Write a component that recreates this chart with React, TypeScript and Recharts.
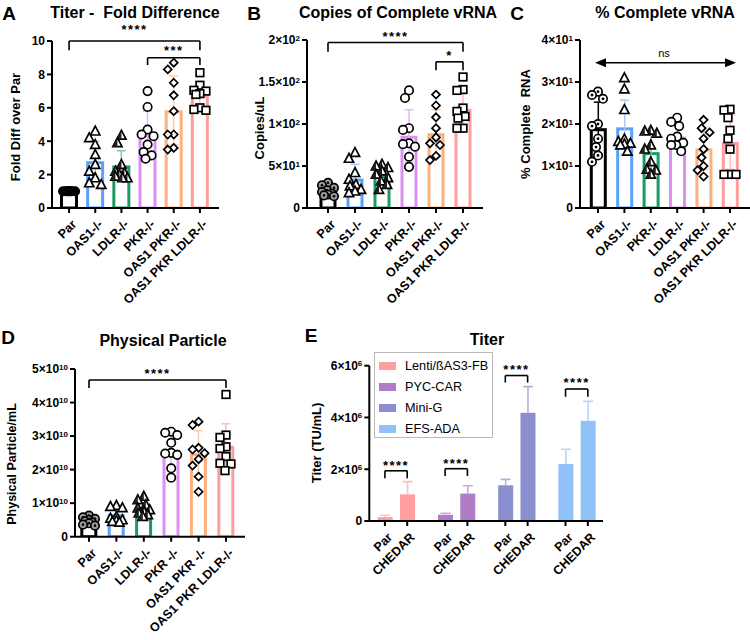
import React from 'react';
import { ComposedChart, Bar, Scatter, XAxis, YAxis, ReferenceLine, ReferenceDot } from 'recharts';

const FONT = '"Liberation Sans", Arial, Helvetica, sans-serif';

// ---------------- Panel A : Titer - Fold Difference ----------------
const catsA = ['Par', 'OAS1-/-', 'LDLR-/-', 'PKR-/-', 'OAS1 PKR-/-', 'OAS1 PKR LDLR-/-'];
const meanA = [1.0, 2.8, 2.55, 4.4, 5.85, 6.8];
const sdA = [0.05, 1.2, 0.88, 1.4, 2.05, 0.7];
const pointsA = [
  [1.0, 1.0, 1.0, 1.0, 1.0, 1.0, 1.0, 1.0, 1.0],
  [4.6, 4.2, 3.8, 3.2, 2.6, 2.2, 1.8, 1.5, 1.4],
  [4.35, 3.9, 2.6, 2.2, 2.1, 2.0, 1.9, 1.8, 1.8],
  [7.0, 6.05, 4.7, 4.4, 4.3, 3.8, 3.35, 3.15, 2.95],
  [8.7, 8.3, 7.5, 6.75, 5.8, 4.4, 4.4, 3.6, 3.5],
  [8.1, 7.35, 7.05, 7.0, 6.85, 6.8, 6.0, 5.9, 5.85],
];
const ticksA = [0, 2, 4, 6, 8, 10];
const bracketsA = [
  { from: 0, to: 5, y: 10, leg: 9.45, label: '****', off: 7 },
  { from: 3, to: 5, y: 9.0, leg: 8.56, label: '***', off: 3 },
];

// ---------------- Panel B : Copies of Complete vRNA ----------------
const catsB = ['Par', 'OAS1-/-', 'LDLR-/-', 'PKR-/-', 'OAS1 PKR-/-', 'OAS1 PKR LDLR-/-'];
const meanB = [17, 35, 39, 86, 89, 118];
const sdB = [4, 17, 11, 31, 28, 19];
const pointsB = [
  [30, 27, 24, 21, 19, 17, 16, 15, 14],
  [66, 59, 42, 34, 28, 26, 22, 20, 18],
  [52, 50, 48, 44, 40, 36, 32, 28, 22],
  [140, 131, 95, 93, 77, 76, 73, 61, 49],
  [135, 122, 108, 95, 84, 77, 75, 62, 57],
  [156, 141, 140, 119, 115, 109, 107, 95, 95],
];
const ticksB = [0, 50, 100, 150, 200];
const bracketsB = [
  { from: 0, to: 5, y: 197, leg: 186, label: '****', off: 2 },
  { from: 4, to: 5, y: 174, leg: 164, label: '*', off: 1.5 },
];

// ---------------- Panel C : % Complete vRNA ----------------
const catsC = ['Par', 'OAS1-/-', 'PKR-/-', 'LDLR-/-', 'OAS1 PKR-/-', 'OAS1 PKR LDLR-/-'];
const meanC = [19.0, 19.2, 13.3, 17.0, 14.2, 15.7];
const sdC = [6.2, 6.5, 4.5, 3.0, 5.0, 6.5];
const pointsC = [
  [27.7, 26.9, 26.0, 20.0, 19.5, 16.5, 14.5, 12.5, 11.0],
  [31.0, 28.3, 23.4, 16.4, 15.8, 15.4, 15.2, 15.0, 13.5],
  [18.5, 18.3, 17.8, 15.0, 14.0, 11.0, 9.2, 9.0, 8.0],
  [21.5, 20.5, 19.5, 17.0, 16.5, 15.5, 15.0, 15.0, 13.5],
  [21.0, 19.0, 18.0, 16.5, 14.0, 12.0, 10.0, 9.0, 7.5],
  [23.5, 23.3, 21.5, 18.5, 16.5, 14.0, 8.0, 8.0, 8.0],
];
const ticksC = [0, 10, 20, 30, 40];
const nsArrowC = { y: 34.6, label: 'ns' };

// ---------------- Panel D : Physical Particle ----------------
const catsD = ['Par', 'OAS1-/-', 'LDLR-/-', 'PKR -/-', 'OAS1 PKR -/-', 'OAS1 PKR LDLR-/-'];
const meanD = [4.0e9, 6.7e9, 8.0e9, 25.9e9, 24.9e9, 27.1e9];
const sdD = [1.0e9, 2.0e9, 2.2e9, 5.0e9, 6.7e9, 6.6e9];
const pointsD = [
  [6.3e9, 5.8e9, 5.3e9, 5.0e9, 4.6e9, 4.3e9, 4.0e9, 3.6e9, 3.3e9],
  [9.3e9, 9.0e9, 8.6e9, 6.0e9, 5.5e9, 5.0e9, 4.8e9, 4.5e9, 4.3e9],
  [12.0e9, 11.0e9, 9.5e9, 8.5e9, 8.0e9, 7.5e9, 7.0e9, 6.5e9, 6.0e9],
  [31.3e9, 31.0e9, 30.3e9, 28.0e9, 25.0e9, 24.8e9, 24.4e9, 20.4e9, 17.6e9],
  [34.3e9, 33.3e9, 26.5e9, 26.0e9, 24.9e9, 23.1e9, 21.2e9, 17.9e9, 13.4e9],
  [42.4e9, 30.3e9, 29.6e9, 26.8e9, 26.3e9, 23.9e9, 21.9e9, 21.7e9, 19.7e9],
];
const ticksD = [0, 1e10, 2e10, 3e10, 4e10, 5e10];
const bracketsD = [{ from: 0, to: 5, y: 4.67e10, leg: 4.43e10, label: '****', off: 2 }];

// ---------------- Panel E : Titer ----------------
const constructsE = ['Lenti/ßAS3-FB', 'PYC-CAR', 'Mini-G', 'EFS-ADA'];
const conditionsE = ['Par', 'CHEDAR'];
const titerParE = [0.15e6, 0.24e6, 1.38e6, 2.2e6];
const titerChedarE = [1.03e6, 1.06e6, 4.18e6, 3.87e6];
const sdParE = [0.07e6, 0.06e6, 0.23e6, 0.57e6];
const sdChedarE = [0.49e6, 0.3e6, 1.01e6, 0.75e6];
const ticksE = [0, 2e6, 4e6, 6e6];
const bracketsE = [
  { y: 1.94e6, leg: 1.65e6, label: '****', off: 1 },
  { y: 2.02e6, leg: 1.74e6, label: '****', off: 1 },
  { y: 5.62e6, leg: 5.35e6, label: '****', off: 2 },
  { y: 5.10e6, leg: 4.80e6, label: '****', off: 2 },
];

// ---------------- styles ----------------
const barColors = ['#000000', '#5AA2F7', '#1B9A62', '#DC90F2', '#FFB07C', '#FF9D9D'];
const errColors = ['#000000', '#A6CBF9', '#82C9A6', '#E8B6F6', '#FFCDAA', '#FFBDBD'];
const colorsE = ['#FF9D9F', '#B07CC6', '#8B8FCF', '#90C2F7'];
const errColorsE = ['#FFBEBF', '#CDA8DA', '#AFB1DE', '#B5D7FA'];
const GROUP_STEP = 2.7;

const kindsA = ['solid', 'tri', 'halfTri', 'circle', 'diamond', 'square'];
const kindsB = ['dotGray', 'tri', 'halfTri', 'circle', 'diamond', 'square'];
const kindsC = ['dot', 'tri', 'halfTri', 'circle', 'diamond', 'square'];

function Marker({ cx, cy, kind }: { cx: number; cy: number; kind: string }) {
  const s = { stroke: '#000', strokeWidth: 1.7 };
  if (cx == null || cy == null || isNaN(cx) || isNaN(cy)) return null;
  switch (kind) {
    case 'solid':
      return <circle cx={cx} cy={cy} r={4.2} fill="#000" {...s} />;
    case 'dotGray':
      return (
        <g>
          <circle cx={cx} cy={cy} r={4.2} fill="#9a9a9a" {...s} />
          <circle cx={cx} cy={cy} r={1.3} fill="#000" />
        </g>
      );
    case 'dot':
      return (
        <g>
          <circle cx={cx} cy={cy} r={4.2} fill="#fff" {...s} />
          <circle cx={cx} cy={cy} r={1.4} fill="#000" />
        </g>
      );
    case 'tri':
      return <polygon points={`${cx},${cy - 5} ${cx + 4.6},${cy + 3.8} ${cx - 4.6},${cy + 3.8}`} fill="#fff" {...s} />;
    case 'halfTri':
      return (
        <g>
          <polygon points={`${cx},${cy - 5} ${cx + 4.6},${cy + 3.8} ${cx - 4.6},${cy + 3.8}`} fill="#fff" {...s} />
          <polygon points={`${cx},${cy - 5} ${cx},${cy + 3.8} ${cx - 4.6},${cy + 3.8}`} fill="#222" />
        </g>
      );
    case 'circle':
      return <circle cx={cx} cy={cy} r={4.2} fill="#fff" {...s} />;
    case 'diamond':
      return <polygon points={`${cx},${cy - 4} ${cx + 4},${cy} ${cx},${cy + 4} ${cx - 4},${cy}`} fill="#fff" {...s} />;
    case 'square':
      return <rect x={cx - 3.8} y={cy - 3.8} width={7.6} height={7.6} fill="#fff" {...s} />;
    default:
      return null;
  }
}

// simple beeswarm: horizontal pixel offsets so markers do not overlap too much
function swarm(values: number[], ppu: number, d: number, maxOff: number): number[] {
  const placed: { x: number; y: number }[] = [];
  const cands: number[] = [0];
  for (let k = 1; k <= maxOff; k++) cands.push(-k, k);
  return values.map((v) => {
    const y = v * ppu;
    let best = 0;
    let bestDist = -1;
    for (const c of cands) {
      let md = Infinity;
      for (const p of placed) md = Math.min(md, Math.hypot(p.x - c, p.y - y));
      if (md >= d) { best = c; bestDist = md; break; }
      if (md > bestDist + 0.5) { bestDist = md; best = c; }
    }
    placed.push({ x: best, y });
    return best;
  });
}

function buildRows(cats: string[], means: number[], sds: number[], points: number[][], ppu: number) {
  return cats.map((name, i) => {
    const row: any = { name, mean: means[i], sd: sds[i], idx: i };
    const offs = swarm(points[i], ppu, 8.5, 6);
    points[i].forEach((v, k) => {
      row['p' + k] = v;
      row['o' + k] = offs[k];
    });
    return row;
  });
}

function HollowBar(props: any) {
  const { x, y, width, height, payload } = props;
  if (height == null || width == null) return null;
  const i = payload.idx;
  const ppu = payload.mean > 0 ? height / payload.mean : 0;
  const e = payload.sd * ppu;
  const cx = x + width / 2;
  const sw = 3;
  return (
    <g>
      <rect x={x + sw / 2} y={y + sw / 2} width={width - sw} height={Math.max(0, height - sw / 2)} fill="#fff" stroke={barColors[i]} strokeWidth={sw} />
      <line x1={cx} x2={cx} y1={y - e} y2={y + e} stroke={errColors[i]} strokeWidth={1.5} />
      <line x1={cx - 4.5} x2={cx + 4.5} y1={y - e} y2={y - e} stroke={errColors[i]} strokeWidth={1.5} />
      <line x1={cx - 4.5} x2={cx + 4.5} y1={y + e} y2={y + e} stroke={errColors[i]} strokeWidth={1.5} />
    </g>
  );
}

function SolidBar(props: any) {
  const { x, y, width, height, payload } = props;
  if (height == null || width == null) return null;
  const g = payload.g;
  const ppu = payload.v > 0 ? height / payload.v : 0;
  const e = payload.sd * ppu;
  const cx = x + width / 2;
  return (
    <g>
      <line x1={cx} x2={cx} y1={y} y2={y - e} stroke={errColorsE[g]} strokeWidth={1.6} />
      <line x1={cx - 5} x2={cx + 5} y1={y - e} y2={y - e} stroke={errColorsE[g]} strokeWidth={1.6} />
      <rect x={x} y={y} width={width} height={height} fill={colorsE[g]} />
    </g>
  );
}

function sciParts(v: number): [string, string] {
  if (v === 0) return ['0', ''];
  const e = Math.floor(Math.log10(v) + 1e-9);
  const m = v / Math.pow(10, e);
  return [`${+m.toFixed(2)}×10`, String(e)];
}
function plainParts(v: number): [string, string] {
  return [String(v), ''];
}

function YTick(props: any) {
  const { x, y, payload, fmt } = props;
  const [base, exp] = fmt(payload.value);
  return (
    <text x={x} y={y} dy="0.36em" textAnchor="end" fontFamily={FONT} fontSize={12} fontWeight="bold" fill="#000">
      {base}
      {exp ? (
        <tspan dy="-0.45em" fontSize={8}>
          {exp}
        </tspan>
      ) : null}
    </text>
  );
}

function XRotTick(props: any) {
  const { x, y, payload, labels, index } = props;
  const text = labels ? labels[index % labels.length] : payload.value;
  return (
    <g transform={`translate(${x + 5},${y + 7})`}>
      <text x={0} y={0} dy="0.35em" textAnchor="end" transform="rotate(-45)" fontFamily={FONT} fontSize={12.5} fontWeight="bold" fill="#000">
        {text}
      </text>
    </g>
  );
}

const axisStroke = { stroke: '#000', strokeWidth: 2 };

function bracketLines(x1: any, x2: any, y: number, leg: number, label: string, off: number, key: string) {
  const common = { stroke: '#000', strokeWidth: 1.6, ifOverflow: 'visible' as const };
  return [
    <ReferenceLine
      key={key + 'h'}
      segment={[{ x: x1, y }, { x: x2, y }]}
      {...common}
      label={{ value: label, position: 'top', offset: off, fontSize: 13, fontWeight: 'bold', fill: '#000', fontFamily: FONT, letterSpacing: 1.5 }}
    />,
    <ReferenceLine key={key + 'l'} segment={[{ x: x1, y }, { x: x1, y: leg }]} {...common} />,
    <ReferenceLine key={key + 'r'} segment={[{ x: x2, y }, { x: x2, y: leg }]} {...common} />,
  ];
}

type PanelProps = {
  left: number; top: number; width: number; height: number;
  margin: { top: number; right: number; bottom: number; left: number };
  yWidth: number; xHeight: number; padL: number; padR: number;
  cats: string[]; means: number[]; sds: number[]; points: number[][]; kinds: string[];
  yMax: number; yTicks: number[]; fmt: (v: number) => [string, string];
  barSize: number; extra?: React.ReactNode;
};

function DotBarPanel(p: PanelProps) {
  const plotH = p.height - p.margin.top - p.margin.bottom - p.xHeight;
  const rows = buildRows(p.cats, p.means, p.sds, p.points, plotH / p.yMax);
  const nPts = p.points[0].length;
  return (
    <div style={{ position: 'absolute', left: p.left, top: p.top }}>
      <ComposedChart width={p.width} height={p.height} data={rows} margin={p.margin}>
        <XAxis
          dataKey="name"
          type="category"
          interval={0}
          height={p.xHeight}
          padding={{ left: p.padL, right: p.padR }}
          tick={(tp: any) => <XRotTick {...tp} />}
          tickSize={5}
          axisLine={axisStroke}
          tickLine={axisStroke}
        />
        <YAxis
          type="number"
          domain={[0, p.yMax]}
          ticks={p.yTicks}
          interval={0}
          width={p.yWidth}
          allowDataOverflow
          tick={(tp: any) => <YTick {...tp} fmt={p.fmt} />}
          tickSize={5}
          axisLine={axisStroke}
          tickLine={axisStroke}
        />
        <Bar dataKey="mean" barSize={p.barSize} isAnimationActive={false} shape={(bp: any) => <HollowBar {...bp} />} />
        {Array.from({ length: nPts }, (_, k) => (
          <Scatter
            key={'s' + k}
            dataKey={'p' + k}
            isAnimationActive={false}
            shape={(sp: any) => (
              <Marker cx={sp.cx + (sp.payload ? sp.payload['o' + k] : 0)} cy={sp.cy} kind={p.kinds[sp.payload ? sp.payload.idx : 0]} />
            )}
          />
        ))}
        {p.extra}
      </ComposedChart>
    </div>
  );
}

function Text(props: { x: number; y: number; size: number; bold?: boolean; rotate?: boolean; children: React.ReactNode }) {
  return (
    <div
      style={{
        position: 'absolute',
        left: props.x,
        top: props.y,
        transform: `translate(-50%,-50%)${props.rotate ? ' rotate(-90deg)' : ''}`,
        fontSize: props.size,
        fontWeight: props.bold === false ? 'normal' : 'bold',
        fontFamily: FONT,
        whiteSpace: 'pre',
        lineHeight: 1,
        color: '#000',
      }}
    >
      {props.children}
    </div>
  );
}

export default function App() {
  const rowsE: any[] = [];
  constructsE.forEach((_, g) => {
    rowsE.push({ x: g * GROUP_STEP, v: titerParE[g], sd: sdParE[g], g });
    rowsE.push({ x: g * GROUP_STEP + 1, v: titerChedarE[g], sd: sdChedarE[g], g });
  });
  const ticksXE = rowsE.map((r) => r.x);

  const bracketElsA = bracketsA.flatMap((b, i) => bracketLines(catsA[b.from], catsA[b.to], b.y, b.leg, b.label, b.off, 'a' + i));
  const bracketElsB = bracketsB.flatMap((b, i) => bracketLines(catsB[b.from], catsB[b.to], b.y, b.leg, b.label, b.off, 'b' + i));
  const bracketElsD = bracketsD.flatMap((b, i) => bracketLines(catsD[b.from], catsD[b.to], b.y, b.leg, b.label, b.off, 'd' + i));
  const bracketElsE = bracketsE.flatMap((b, g) => bracketLines(g * GROUP_STEP, g * GROUP_STEP + 1, b.y, b.leg, b.label, b.off, 'e' + g));

  const arrowC = [
    <ReferenceLine
      key="nsl"
      segment={[{ x: catsC[0], y: nsArrowC.y }, { x: catsC[5], y: nsArrowC.y }]}
      stroke="#000"
      strokeWidth={1.6}
      ifOverflow="visible"
      label={{ value: nsArrowC.label, position: 'top', offset: 6, fontSize: 11, fill: '#000', fontFamily: FONT }}
    />,
    <ReferenceDot
      key="nsa1"
      x={catsC[0]}
      y={nsArrowC.y}
      r={0}
      ifOverflow="visible"
      shape={(dp: any) => <polygon points={`${dp.cx - 3},${dp.cy} ${dp.cx + 8},${dp.cy - 4.5} ${dp.cx + 8},${dp.cy + 4.5}`} fill="#000" />}
    />,
    <ReferenceDot
      key="nsa2"
      x={catsC[5]}
      y={nsArrowC.y}
      r={0}
      ifOverflow="visible"
      shape={(dp: any) => <polygon points={`${dp.cx + 6},${dp.cy} ${dp.cx - 5},${dp.cy - 4.5} ${dp.cx - 5},${dp.cy + 4.5}`} fill="#000" />}
    />,
  ];

  return (
    <div style={{ position: 'absolute', left: 0, top: 0, width: 750, height: 640, background: '#fff', overflow: 'hidden' }}>
      <DotBarPanel
        left={0} top={0} width={250} height={310}
        margin={{ top: 41, right: 31, bottom: 0, left: 12 }}
        yWidth={40} xHeight={102} padL={4} padR={6}
        cats={catsA} means={meanA} sds={sdA} points={pointsA} kinds={kindsA}
        yMax={10} yTicks={ticksA} fmt={plainParts} barSize={18}
        extra={bracketElsA}
      />
      <DotBarPanel
        left={250} top={0} width={250} height={310}
        margin={{ top: 40, right: 17, bottom: 0, left: 12 }}
        yWidth={45} xHeight={102} padL={7.5} padR={6.5}
        cats={catsB} means={meanB} sds={sdB} points={pointsB} kinds={kindsB}
        yMax={200} yTicks={ticksB} fmt={sciParts} barSize={17}
        extra={bracketElsB}
      />
      <DotBarPanel
        left={500} top={0} width={250} height={310}
        margin={{ top: 40, right: 0, bottom: 0, left: 30 }}
        yWidth={50} xHeight={102} padL={4.8} padR={6.8}
        cats={catsC} means={meanC} sds={sdC} points={pointsC} kinds={kindsC}
        yMax={40} yTicks={ticksC} fmt={sciParts} barSize={17}
        extra={arrowC}
      />
      <DotBarPanel
        left={0} top={300} width={250} height={340}
        margin={{ top: 69, right: 5, bottom: 0, left: 20 }}
        yWidth={55} xHeight={103.3} padL={0.3} padR={5.3}
        cats={catsD} means={meanD} sds={sdD} points={pointsD} kinds={kindsB}
        yMax={5e10} yTicks={ticksD} fmt={sciParts} barSize={17}
        extra={bracketElsD}
      />

      <div style={{ position: 'absolute', left: 250, top: 300 }}>
        <ComposedChart width={500} height={340} data={rowsE} margin={{ top: 65.7, right: 147, bottom: 0, left: 69.3 }}>
          <XAxis
            dataKey="x"
            type="number"
            domain={[-0.7, 9.78]}
            ticks={ticksXE}
            interval={0}
            allowDataOverflow
            height={119}
            tick={(tp: any) => <XRotTick {...tp} labels={conditionsE} />}
            tickSize={5}
            axisLine={axisStroke}
            tickLine={axisStroke}
          />
          <YAxis
            type="number"
            domain={[0, 6e6]}
            ticks={ticksE}
            interval={0}
            width={50}
            allowDataOverflow
            tick={(tp: any) => <YTick {...tp} fmt={sciParts} />}
            tickSize={5}
            axisLine={axisStroke}
            tickLine={axisStroke}
          />
          <Bar dataKey="v" barSize={15} isAnimationActive={false} shape={(bp: any) => <SolidBar {...bp} />} />
          {bracketElsE}
        </ComposedChart>
      </div>

      {/* Legend for E */}
      <div style={{ position: 'absolute', left: 374, top: 352, width: 119, height: 86, border: '1.5px solid #b8b8b8', boxSizing: 'border-box', background: '#fff' }}>
        {constructsE.map((c, i) => (
          <div key={c} style={{ position: 'absolute', left: 4, top: 13 + 21 * i - 6, height: 12, display: 'flex', alignItems: 'center' }}>
            <div style={{ width: 17, height: 8, background: colorsE[i] }} />
            <div style={{ marginLeft: 9, fontFamily: FONT, fontSize: 12.7, lineHeight: 1, color: '#000', whiteSpace: 'nowrap' }}>{c}</div>
          </div>
        ))}
      </div>

      {/* panel letters */}
      <Text x={9} y={13} size={19}>A</Text>
      <Text x={254} y={13} size={19}>B</Text>
      <Text x={517} y={13} size={19}>C</Text>
      <Text x={8} y={337} size={19}>D</Text>
      <Text x={311} y={335} size={19}>E</Text>

      {/* titles */}
      <Text x={135} y={13} size={16}>{'Titer -  Fold Difference'}</Text>
      <Text x={398} y={13} size={16}>Copies of Complete vRNA</Text>
      <Text x={665} y={13} size={16}>% Complete vRNA</Text>
      <Text x={163} y={341} size={16}>Physical Particle</Text>
      <Text x={487} y={340} size={16}>Titer</Text>

      {/* y labels */}
      <Text x={15} y={127} size={13} rotate>Fold Diff over Par</Text>
      <Text x={258.5} y={128} size={13} rotate>Copies/uL</Text>
      <Text x={525} y={124} size={13} rotate>{'% Complete  RNA'}</Text>
      <Text x={12} y={464} size={12.5} rotate>Physical Particle/mL</Text>
      <Text x={316} y={443} size={13} rotate>Titer (TU/mL)</Text>
    </div>
  );
}
